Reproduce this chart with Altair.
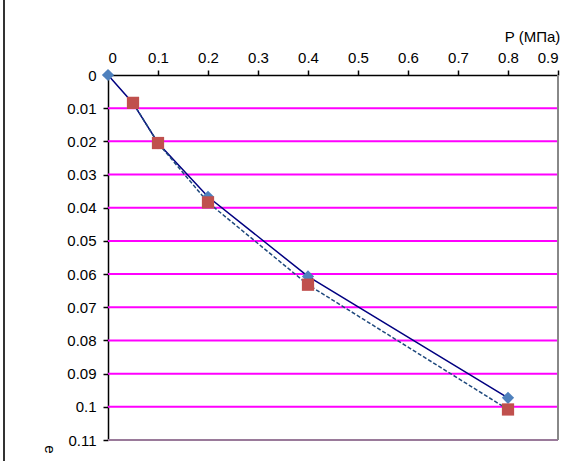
import altair as alt
import pandas as pd

# Pressure steps (MPa) and void-ratio change for the two curves
p_calc = [0.0, 0.05, 0.1, 0.2, 0.4, 0.8]
e_calc = [0.0, 0.0085, 0.0205, 0.0367, 0.0607, 0.0973]

p_test = [0.05, 0.1, 0.2, 0.4, 0.8]
e_test = [0.0084, 0.0205, 0.0384, 0.0632, 0.1008]

grid_levels = [0.01, 0.02, 0.03, 0.04, 0.05, 0.06, 0.07, 0.08, 0.09, 0.10]
x_ticks = [0, 0.1, 0.2, 0.3, 0.4, 0.5, 0.6, 0.7, 0.8, 0.9]
y_ticks = [0, 0.01, 0.02, 0.03, 0.04, 0.05, 0.06, 0.07, 0.08, 0.09, 0.1, 0.11]

calc = pd.DataFrame({"P": p_calc, "e": e_calc})
test = pd.DataFrame({"P": p_test, "e": e_test})
grid = pd.DataFrame({"e": grid_levels})

W, H = 450, 365
FONT = "Liberation Sans"

x_scale = alt.Scale(domain=[0, 0.9], nice=False, zero=False)
y_scale = alt.Scale(domain=[0, 0.11], reverse=True, nice=False, zero=False)

axis_style = dict(
    format="~g", labelOverlap=False, grid=False,
    domainColor="black", domainWidth=1.5, tickColor="black",
    tickWidth=1.5, tickSize=5,
    labelFont=FONT, labelFontSize=15, labelColor="black",
    titleFont=FONT, titleFontSize=15, titleFontWeight="normal", titleColor="black",
)

x_axis = alt.Axis(
    orient="top", values=x_ticks, labelPadding=5,
    title="P (МПа)", titleX=424, titleY=-31, titleAngle=0, **axis_style,
)
y_axis = alt.Axis(
    orient="left", values=y_ticks, labelPadding=7,
    title="e", titleX=-67, titleY=374, titleAngle=90, **axis_style,
)


def xy(chart):
    return chart.encode(
        x=alt.X("P:Q", scale=x_scale, axis=x_axis),
        y=alt.Y("e:Q", scale=y_scale, axis=y_axis),
    )


gridlines = alt.Chart(grid).mark_rule(color="#FF00FF", strokeWidth=2).encode(
    y=alt.Y("e:Q", scale=y_scale, axis=y_axis),
)

bottom_edge = alt.Chart(grid).mark_rule(color="#9A7A9A", strokeWidth=2).encode(
    x=alt.value(0), x2=alt.value(W), y=alt.value(H)
)
right_edge = alt.Chart(grid).mark_rule(color="#888888", strokeWidth=2).encode(
    x=alt.value(W), y=alt.value(0), y2=alt.value(H)
)
sheet_edge = alt.Chart(grid).mark_rule(color="#333333", strokeWidth=1.5).encode(
    x=alt.value(-104), y=alt.value(-75), y2=alt.value(H + 21)
)

calc_line = xy(alt.Chart(calc).mark_line(color="#000080", strokeWidth=1.5))
test_line = xy(alt.Chart(test).mark_line(
    color="#1F497D", strokeWidth=1.5, strokeDash=[4, 2]
))
calc_pts = xy(alt.Chart(calc).mark_point(
    shape="diamond", filled=True, size=150, color="#4F81BD", opacity=1
))
test_pts = xy(alt.Chart(test).mark_point(
    shape="square", filled=True, size=150, color="#C0504D", opacity=1
))

chart = alt.layer(
    gridlines, bottom_edge, right_edge, sheet_edge,
    calc_line, test_line, calc_pts, test_pts
).properties(
    width=W, height=H,
    background="white",
    autosize=alt.AutoSizeParams(type="none"),
    padding={"left": 108, "top": 75, "right": 27, "bottom": 21},
).configure_view(
    stroke=None
)

chart.save("out.html", embed_options={"renderer": "svg", "actions": False})
